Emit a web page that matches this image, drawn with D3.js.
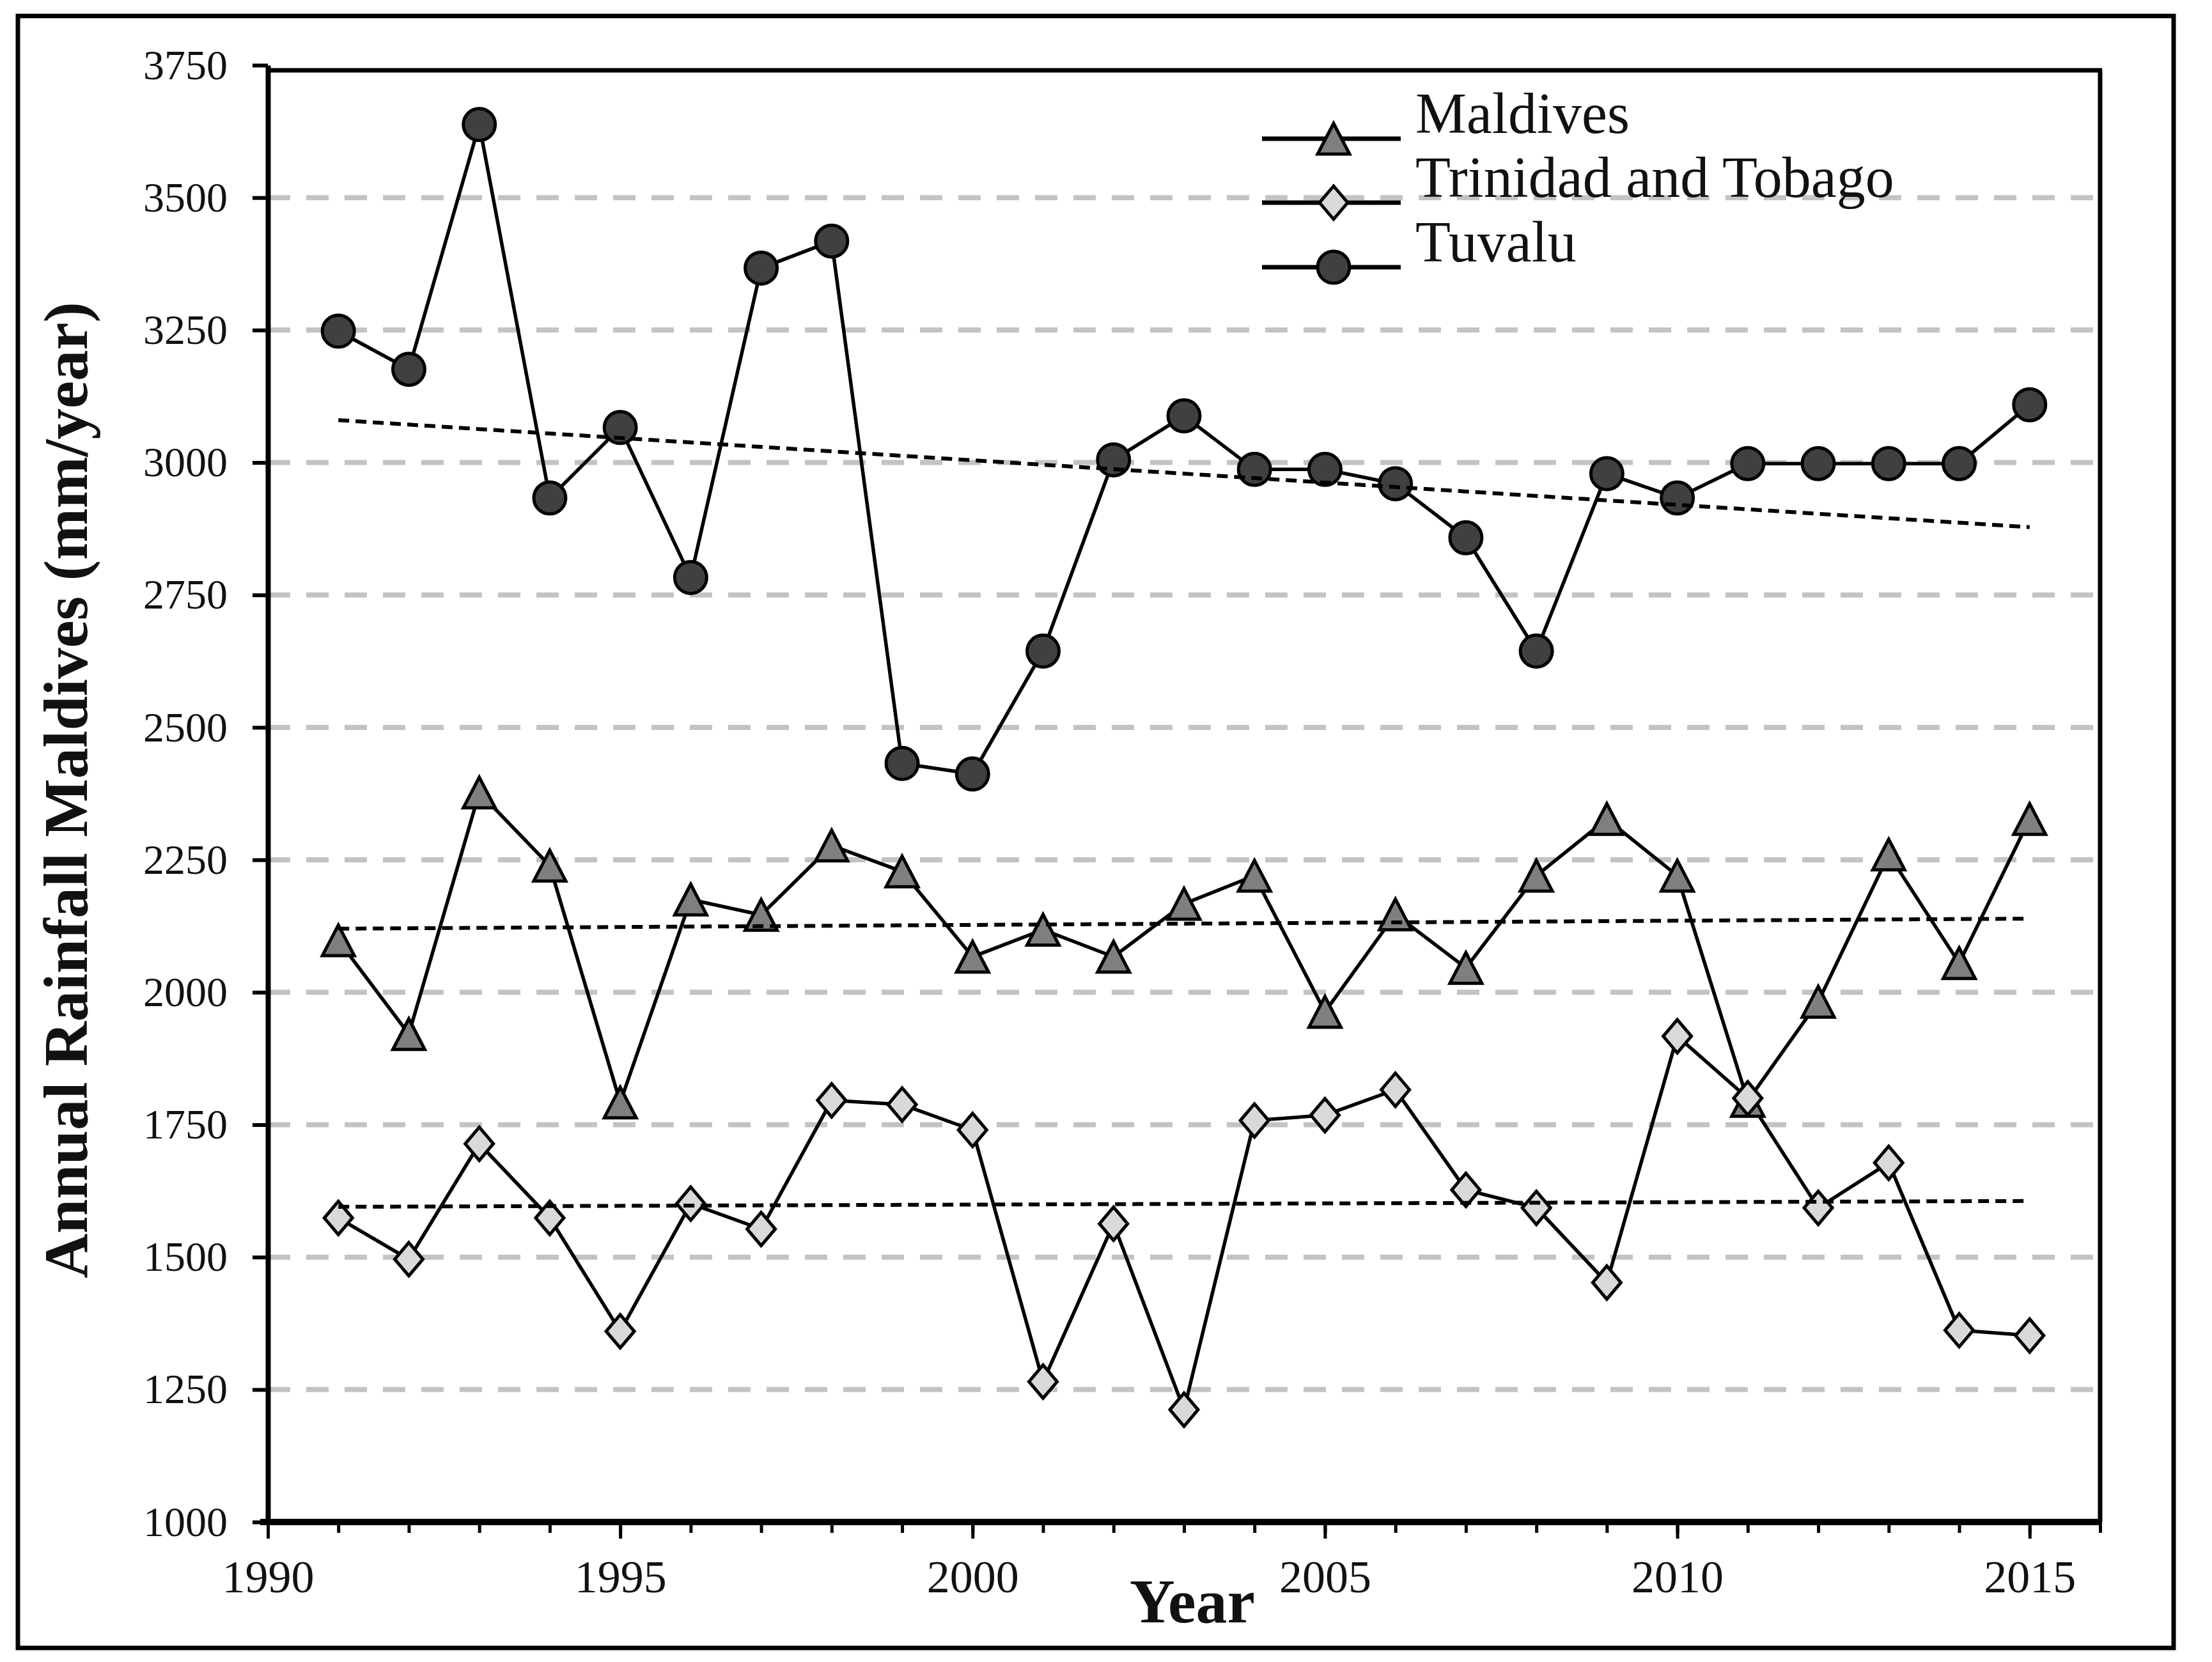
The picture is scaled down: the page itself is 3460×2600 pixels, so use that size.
<!DOCTYPE html>
<html><head><meta charset="utf-8">
<script src="https://cdn.jsdelivr.net/npm/d3@7"></script>
<style>body{margin:0;background:#fff} svg{display:block}</style>
</head><body>
<svg id="c" width="3460" height="2600"></svg>
<script>
// ---- data ----
const years = [1991,1992,1993,1994,1995,1996,1997,1998,1999,2000,2001,2002,2003,2004,2005,2006,2007,2008,2009,2010,2011,2012,2013,2014,2015];
const maldives = [2098,1921,2377,2239,1792,2175,2146,2277,2228,2067,2118,2067,2167,2220,1963,2147,2046,2220,2327,2220,1795,1982,2260,2055,2327];
const trinidad = [1574,1496,1714,1574,1360,1601,1553,1796,1788,1740,1265,1563,1212,1758,1768,1816,1627,1593,1452,1917,1800,1593,1678,1362,1352];
const tuvalu   = [3248,3176,3638,2933,3066,2783,3367,3418,2432,2412,2644,3005,3088,2987,2987,2960,2858,2644,2979,2933,2998,2998,2998,2998,3109];
const trendYears = [1991, 2015];
const maldivesTrend = [2120, 2139];
const trinidadTrend = [1595, 1606];
const tuvaluTrend = [3080, 2878];
const seriesNames = ["Maldives", "Trinidad and Tobago", "Tuvalu"];
const yTickValues = [1000,1250,1500,1750,2000,2250,2500,2750,3000,3250,3500,3750];
const xTickValues = [1990,1995,2000,2005,2010,2015];
const xTitle = "Year";
const yTitle = "Annual Rainfall Maldives (mm/year)";

// ---- layout ----
const svg = d3.select("#c");
const L = 419, R = 3285, T = 102, B = 2381;
const x = d3.scaleLinear().domain([1990, 2016]).range([L, R]);
const y = d3.scaleLinear().domain([1000, 3750]).range([B, T]);
const serif = "'Liberation Serif','Times New Roman',serif";

// outer frame
svg.append("rect").attr("x", 28).attr("y", 25).attr("width", 3372).attr("height", 2553)
  .attr("fill", "none").attr("stroke", "#000").attr("stroke-width", 7);

// gridlines
svg.append("g").selectAll("line")
  .data(yTickValues.filter(v => v > 1000 && v < 3750))
  .join("line")
  .attr("x1", L).attr("x2", R)
  .attr("y1", d => y(d)).attr("y2", d => y(d))
  .attr("stroke", "#c3c3c3").attr("stroke-width", 8)
  .attr("stroke-dasharray", "35,25");

// plot frame top & right
const topY = y(3750) + 8;
svg.append("line").attr("x1", L).attr("x2", R + 3).attr("y1", topY).attr("y2", topY)
  .attr("stroke", "#000").attr("stroke-width", 7);
svg.append("line").attr("x1", R).attr("x2", R).attr("y1", topY).attr("y2", B)
  .attr("stroke", "#000").attr("stroke-width", 7);

// series
const markerTri = "M0,-24L25,24L-25,24Z";
const markerDia = "M0,-26L22,0L0,26L-22,0Z";
const series = [
  {name: seriesNames[0], values: maldives, trend: maldivesTrend, shape: "tri", fill: "#7f7f7f"},
  {name: seriesNames[1], values: trinidad, trend: trinidadTrend, shape: "dia", fill: "#d9d9d9"},
  {name: seriesNames[2], values: tuvalu, trend: tuvaluTrend, shape: "cir", fill: "#404040"}
];
const line = d3.line().x(d => x(d[0])).y(d => y(d[1]));

function drawMarker(g, shape, fill) {
  if (shape === "cir") {
    g.append("ellipse").attr("rx", 25).attr("ry", 25)
      .attr("fill", fill).attr("stroke", "#000").attr("stroke-width", 5);
  } else {
    g.append("path").attr("d", shape === "tri" ? markerTri : markerDia)
      .attr("fill", fill).attr("stroke", "#000").attr("stroke-width", 5)
      .attr("stroke-linejoin", "miter");
  }
}

const gS = svg.append("g");
series.forEach(s => {
  const pts = years.map((yr, i) => [yr, s.values[i]]);
  gS.append("path").attr("d", line(pts)).attr("fill", "none")
    .attr("stroke", "#000").attr("stroke-width", 5.5);
});
series.forEach(s => {
  years.forEach((yr, i) => {
    const g = gS.append("g").attr("transform", `translate(${x(yr)},${y(s.values[i])})`);
    drawMarker(g, s.shape, s.fill);
  });
});
// trend lines
series.forEach(s => {
  const pts = trendYears.map((yr, i) => [yr, s.trend[i]]);
  gS.append("path").attr("d", line(pts)).attr("fill", "none")
    .attr("stroke", "#000").attr("stroke-width", 6).attr("stroke-dasharray", "17,10");
});

// axes
const yAxis = d3.axisLeft(y).tickValues(yTickValues).tickSize(24).tickSizeOuter(0).tickPadding(39).tickFormat(d3.format("d"));
const gy = svg.append("g").attr("transform", `translate(${L},0)`).call(yAxis);
gy.select(".domain").attr("stroke", "#000").attr("stroke-width", 8);
gy.selectAll(".tick line").attr("stroke", "#000").attr("stroke-width", 6);
gy.selectAll("text").attr("font-family", serif).attr("font-size", 66).attr("fill", "#111");
gy.attr("font-size", null).attr("font-family", null);

const xMinor = d3.axisBottom(x).tickValues(d3.range(1990, 2017)).tickSize(17).tickSizeOuter(0).tickFormat("");
const gxm = svg.append("g").attr("transform", `translate(0,${B})`).call(xMinor);
gxm.select(".domain").remove();
gxm.selectAll(".tick line").attr("stroke", "#000").attr("stroke-width", 5);

const xAxis = d3.axisBottom(x).tickValues(xTickValues).tickSize(26).tickSizeOuter(0).tickPadding(33).tickFormat(d3.format("d"));
const gx = svg.append("g").attr("transform", `translate(0,${B})`).call(xAxis);
gx.select(".domain").attr("stroke", "#000").attr("stroke-width", 10).attr("d", `M${L - 12},0H${R + 3}`);
gx.selectAll(".tick line").attr("stroke", "#000").attr("stroke-width", 5);
gx.selectAll("text").attr("font-family", serif).attr("font-size", 72).attr("fill", "#111");
gx.attr("font-size", null).attr("font-family", null);

// axis titles
svg.append("text").attr("transform", `translate(136,1236) rotate(-90)`)
  .attr("text-anchor", "middle").attr("font-family", serif).attr("font-weight", "bold")
  .attr("font-size", 97).attr("fill", "#111").text(yTitle);
svg.append("text").attr("x", 1865).attr("y", 2538)
  .attr("text-anchor", "middle").attr("font-family", serif).attr("font-weight", "bold")
  .attr("font-size", 98).attr("fill", "#111").text(xTitle);

// legend
const legY = [217, 317, 418];
const gL = svg.append("g");
series.forEach((s, i) => {
  gL.append("line").attr("x1", 1974).attr("x2", 2191).attr("y1", legY[i]).attr("y2", legY[i])
    .attr("stroke", "#000").attr("stroke-width", 7);
  const g = gL.append("g").attr("transform", `translate(2086,${legY[i]})`);
  drawMarker(g, s.shape, s.fill);
  gL.append("text").attr("x", 2214).attr("y", legY[i] - 9)
    .attr("font-family", serif).attr("font-size", 90).attr("fill", "#111").text(s.name);
});
</script>
</body></html>
